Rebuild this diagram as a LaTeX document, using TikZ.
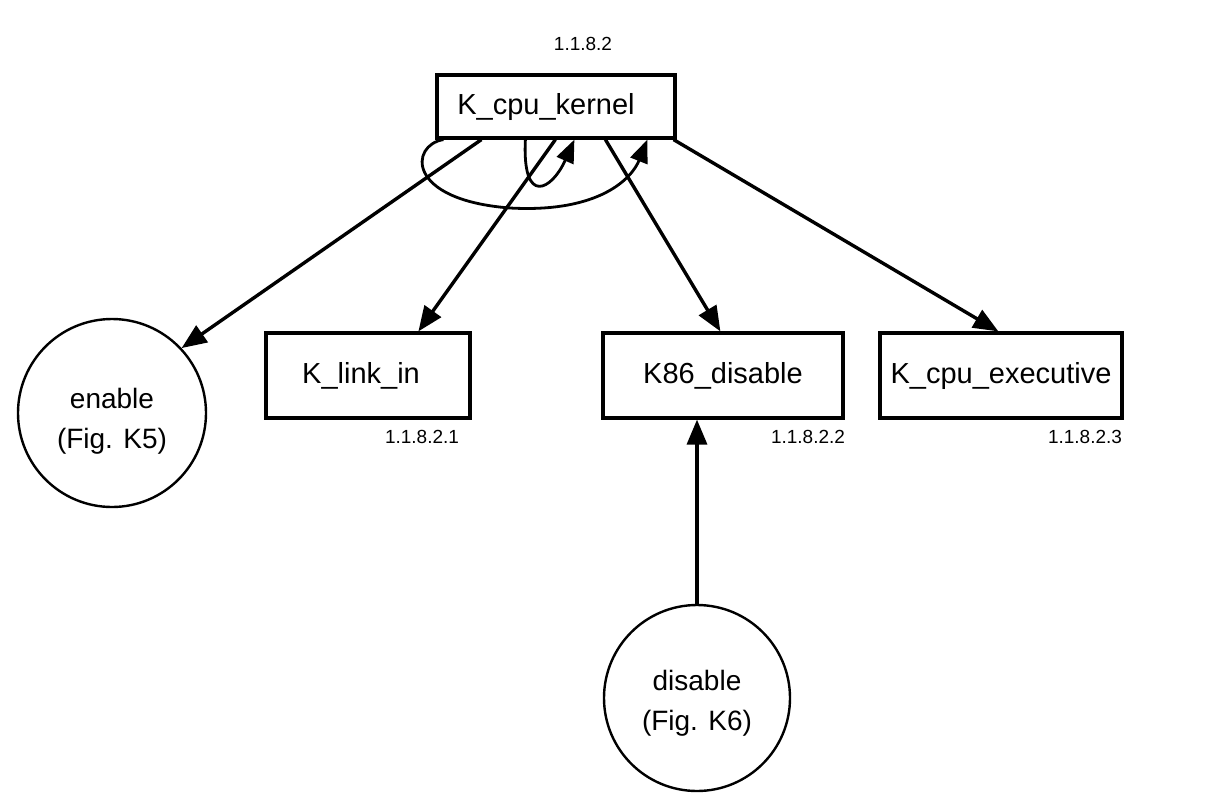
\documentclass[tikz,border=0pt]{standalone}
\usepackage{fontspec}
\setmainfont{Liberation Sans}
\usetikzlibrary{arrows.meta}

\begin{document}
\begin{tikzpicture}[x=1pt, y=-1pt,
  modbox/.style={draw, line width=3.2pt, inner sep=0pt, font=\fontsize{29}{33}\selectfont},
  procnode/.style={draw, circle, line width=2.4pt, inner sep=0pt, align=center,
                   font=\fontsize{28}{40}\selectfont},
  numlabel/.style={inner sep=0pt, font=\fontsize{19}{22}\selectfont},
  call/.style={line width=3.4pt, -{Triangle[length=25pt, width=20pt]}},
  loopcall/.style={line width=2.8pt, -{Triangle[length=23pt, width=18pt]}}
]
\useasboundingbox (0,0) rectangle (1227,793);

% modules
\node[modbox, minimum width=238pt, minimum height=63pt] (kernel) at (556,106.5) {K\_cpu\_kernel\hspace*{20pt}};
\node[modbox, minimum width=204pt, minimum height=85pt] (linkin) at (368,375.5) {K\_link\_in\hspace*{14pt}};
\node[modbox, minimum width=240pt, minimum height=85pt] (k86) at (723,375.5) {K86\_disable};
\node[modbox, minimum width=242pt, minimum height=85pt] (exec) at (1001,375.5) {K\_cpu\_executive};

% external procedures (the strut lowers the two lines a little inside the circle)
\node[procnode, minimum size=188pt] (enable) at (112,413) {\rule{0pt}{37pt}enable\\(Fig. K5)};
\node[procnode, minimum size=186pt] (disable) at (697,698) {\rule{0pt}{31pt}disable\\(Fig. K6)};

% module numbers
\node[numlabel] (nkernel) at (583,44) {1.1.8.2};
\node[numlabel] (nlinkin) at (422,437) {1.1.8.2.1};
\node[numlabel] (nk86) at (808,437) {1.1.8.2.2};
\node[numlabel] (nexec) at (1085,437) {1.1.8.2.3};

% calls
\draw[call] ([xshift=46pt]kernel.south west) -- (enable.43);
\draw[call] ([xshift=120pt]kernel.south west) -- ([xshift=154pt]linkin.north west);
\draw[call] ([xshift=170pt]kernel.south west) -- ([xshift=119pt]k86.north west);
\draw[call] ([xshift=-3pt]kernel.south east) -- ([xshift=120pt]exec.north west);
\draw[call] (disable.north) -- (disable.north |- k86.south);

% recursive calls of the kernel
\draw[loopcall] ([xshift=90pt]kernel.south west)
  .. controls (522,207) and (552,190) .. ([xshift=139pt]kernel.south west);
\draw[loopcall] ([xshift=8pt]kernel.south west)
  .. controls (410,145) and (405,200) .. (510,208)
  .. controls (600,213) and (632,178) .. ([xshift=212pt]kernel.south west);
\end{tikzpicture}
\end{document}
